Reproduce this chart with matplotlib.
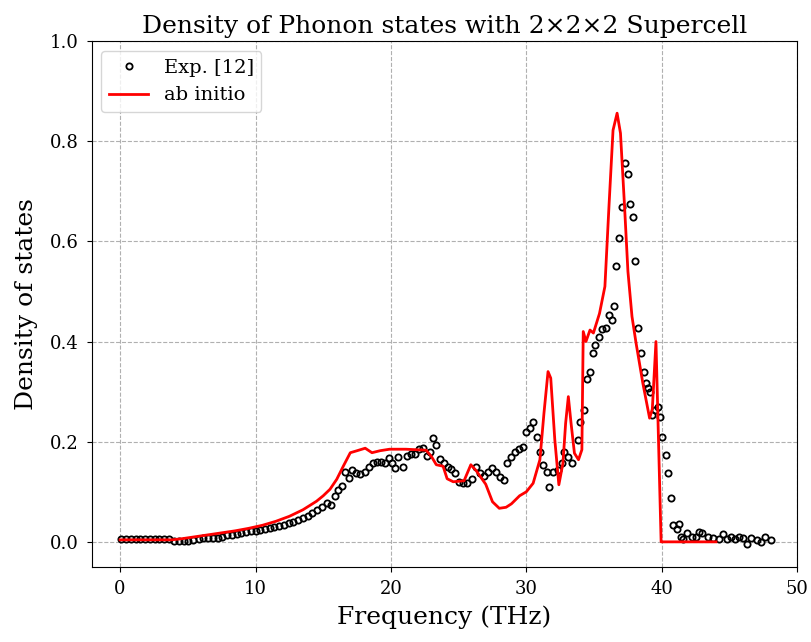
import matplotlib
matplotlib.use("Agg")
import matplotlib.pyplot as plt

# Experimental data (THz, DOS)
exp_freq = [0.1, 0.45, 0.8, 1.15, 1.5, 1.85, 2.2, 2.55, 2.9, 3.25, 3.6,
            4.0, 4.35, 4.7, 5.05, 5.4,
            5.8, 6.15, 6.5, 6.85, 7.2, 7.55,
            7.9, 8.25, 8.6, 8.95, 9.3, 9.65,
            10.0, 10.35, 10.7, 11.05, 11.4, 11.75,
            12.1, 12.45, 12.8, 13.15, 13.5, 13.85,
            14.2, 14.55, 14.9, 15.25, 15.55, 15.85, 16.1, 16.35,
            16.6, 16.9, 17.15, 17.45, 17.75, 18.05, 18.35, 18.65, 18.95, 19.25,
            19.55, 19.85, 20.1, 20.3, 20.55, 20.9, 21.2, 21.5, 21.8, 22.05,
            22.35, 22.65, 22.9, 23.1, 23.35, 23.6, 23.9, 24.2, 24.45, 24.75,
            25.05, 25.35, 25.65, 25.95, 26.25, 26.55, 26.85, 27.15, 27.45, 27.75,
            28.05, 28.35, 28.6, 28.9, 29.15, 29.45, 29.75, 30.0, 30.3, 30.5,
            30.8, 31.0, 31.2, 31.5, 31.7, 31.95, 32.3, 32.6, 32.8, 33.05,
            33.35, 33.8, 33.95, 34.25, 34.45, 34.7, 34.9, 35.1, 35.35, 35.6,
            35.9, 36.1, 36.3, 36.5, 36.65, 36.85, 37.05, 37.3, 37.5, 37.65,
            37.85, 38.05, 38.25, 38.5, 38.65, 38.85, 39.0, 39.1, 39.3, 39.5,
            39.75, 39.9, 40.05, 40.3, 40.45, 40.65, 40.85, 41.1, 41.25, 41.45,
            41.55, 41.85, 42.2, 42.5, 42.75, 43.0, 43.4, 43.8, 44.2, 44.5,
            44.8, 45.1, 45.4, 45.7, 46.0, 46.3, 46.6, 47.0, 47.3, 47.6, 48.1]
exp_dos = [0.005, 0.005, 0.005, 0.005, 0.005, 0.005, 0.005, 0.005, 0.005, 0.005, 0.005,
           0.002, 0.001, 0.001, 0.002, 0.003,
           0.006, 0.007, 0.007, 0.008, 0.008, 0.010,
           0.013, 0.014, 0.016, 0.018, 0.019, 0.021,
           0.022, 0.024, 0.025, 0.027, 0.029, 0.031,
           0.034, 0.037, 0.040, 0.043, 0.047, 0.052,
           0.057, 0.063, 0.070, 0.077, 0.074, 0.091, 0.104, 0.112,
           0.140, 0.128, 0.144, 0.138, 0.135, 0.140, 0.150, 0.157, 0.160, 0.160,
           0.158, 0.168, 0.158, 0.148, 0.170, 0.150, 0.172, 0.175, 0.176, 0.186,
           0.187, 0.171, 0.180, 0.207, 0.194, 0.165, 0.158, 0.150, 0.145, 0.137,
           0.120, 0.117, 0.118, 0.126, 0.150, 0.138, 0.131, 0.140, 0.148, 0.140,
           0.130, 0.124, 0.157, 0.170, 0.180, 0.185, 0.190, 0.220, 0.228, 0.240,
           0.210, 0.180, 0.154, 0.140, 0.110, 0.140, 0.144, 0.158, 0.180, 0.170,
           0.158, 0.204, 0.240, 0.263, 0.325, 0.340, 0.377, 0.393, 0.410, 0.425,
           0.427, 0.453, 0.443, 0.470, 0.550, 0.607, 0.668, 0.757, 0.734, 0.675,
           0.649, 0.560, 0.427, 0.377, 0.340, 0.317, 0.307, 0.300, 0.253, 0.263,
           0.270, 0.250, 0.210, 0.174, 0.137, 0.088, 0.034, 0.026, 0.036, 0.010,
           0.006, 0.018, 0.010, 0.010, 0.020, 0.018, 0.010, 0.008, 0.006, 0.016,
           0.006, 0.010, 0.006, 0.010, 0.008, -0.004, 0.008, 0.004, 0.000, 0.010, 0.004]

# ab initio calculation
calc_freq = [0.0, 1.0, 2.0, 3.0, 3.8, 4.5, 5.5, 6.5, 7.5, 8.5, 9.5, 10.5, 11.5,
             12.5, 13.5, 14.5, 15.0, 15.5, 16.0, 16.5, 17.0, 17.5, 18.1, 18.6,
             19.2, 19.9, 21.1, 22.6, 23.0, 23.35, 23.85, 24.15, 24.6, 25.4,
             25.9, 26.3, 27.0, 27.5, 28.0, 28.5, 28.9, 29.5, 30.0, 30.5, 31.0,
             31.3, 31.6, 31.8, 32.1, 32.4, 32.7, 32.9, 33.1, 33.3, 33.55, 33.85,
             34.1, 34.2, 34.4, 34.7, 34.95, 35.4, 35.8, 36.1, 36.4, 36.7, 36.95,
             37.25, 37.5, 37.8, 38.1, 38.6, 39.1, 39.3, 39.57, 39.95, 44.0]
calc_dos = [0.004, 0.004, 0.004, 0.004, 0.004, 0.006, 0.010, 0.014, 0.018, 0.022,
            0.027, 0.033, 0.041, 0.051, 0.064, 0.081, 0.092, 0.105, 0.125, 0.152,
            0.178, 0.182, 0.187, 0.178, 0.182, 0.185, 0.185, 0.183, 0.170, 0.154,
            0.151, 0.126, 0.120, 0.122, 0.154, 0.142, 0.115, 0.080, 0.067, 0.069,
            0.076, 0.092, 0.100, 0.117, 0.164, 0.257, 0.340, 0.327, 0.204, 0.114,
            0.157, 0.237, 0.290, 0.237, 0.177, 0.164, 0.184, 0.420, 0.400, 0.423,
            0.417, 0.456, 0.510, 0.670, 0.822, 0.856, 0.816, 0.670, 0.540, 0.450,
            0.397, 0.317, 0.247, 0.265, 0.400, 0.000, 0.000]

plt.rcParams['font.family'] = ['DejaVu Serif']

fig = plt.figure(figsize=(8.11, 6.42), dpi=100)
ax = fig.add_axes([0.113, 0.117, 0.870, 0.819])

ax.plot(exp_freq, exp_dos, 'o', mfc='none', mec='black', ms=4.5, mew=1.3,
        label='Exp. [12]')
ax.plot(calc_freq, calc_dos, '-', color='red', lw=2, label='ab initio')

ax.set_xlim(-2.1, 50)
ax.set_ylim(-0.05, 1.0)
ax.grid(True, linestyle='--', color='#b0b0b0')
ax.set_xlabel('Frequency (THz)', fontsize=18, labelpad=5)
ax.set_ylabel('Density of states', fontsize=18, labelpad=8)
ax.set_title('Density of Phonon states with 2×2×2 Supercell', fontsize=18)
ax.tick_params(labelsize=13, pad=6)
ax.legend(loc='upper left', fontsize=14)

fig.savefig('out.png', dpi=100)
